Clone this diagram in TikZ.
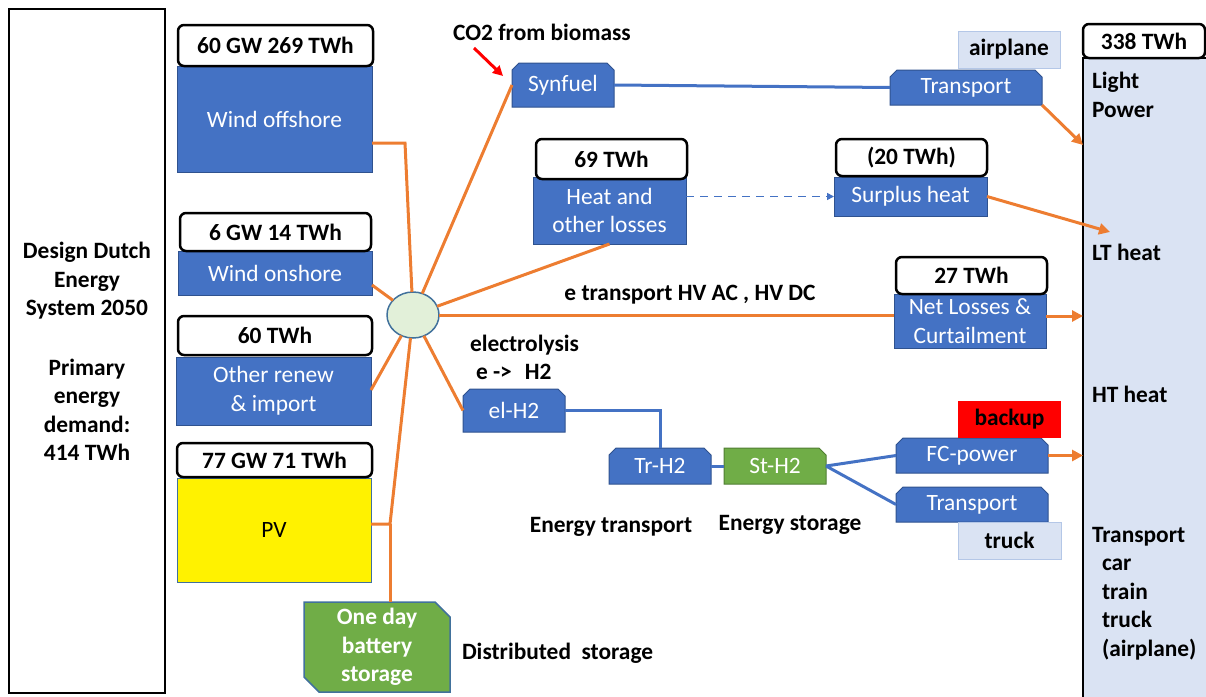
\documentclass[tikz,border=0pt]{standalone}
\usepackage{fontspec}
\setmainfont{Carlito}
\usetikzlibrary{shapes.geometric,arrows.meta,calc,backgrounds}
\definecolor{cblue}{HTML}{4472C4}
\definecolor{cbord}{HTML}{2F528F}
\definecolor{corange}{HTML}{ED7D31}
\definecolor{cgreen}{HTML}{70AD47}
\definecolor{cgreenb}{HTML}{507E32}
\definecolor{clight}{HTML}{DAE3F3}
\definecolor{clightb}{HTML}{B4C7E7}
\definecolor{chubf}{HTML}{E2F0D9}
\definecolor{chubb}{HTML}{41719C}
\newcommand\myfs{\fontsize{23.4}{28.5}\selectfont}
\newcommand\snipbox[4]{%
  \filldraw[fill=#3,draw=#4,line width=1pt] (#1.south west) -- ($(#1.north west)+(0,#2)$) -- ($(#1.north west)+(#2,0)$) -- ($(#1.north east)+(-#2,0)$) -- ($(#1.north east)+(0,#2)$) -- (#1.south east) -- cycle;}
\tikzset{
  every node/.style={font=\myfs, inner sep=0pt, outer sep=0pt},
  lab/.style={draw=black, line width=2.5pt, rounded corners=6pt, fill=white, font=\myfs\bfseries},
  bbox/.style={fill=cblue, draw=cbord, line width=1pt, text=white, align=center},
  ghost/.style={text=white, align=center},
  lbox/.style={fill=clight, draw=clightb, line width=1pt, font=\myfs\bfseries},
  txt/.style={font=\myfs\bfseries, align=center},
  oline/.style={draw=corange, line width=3pt},
  oarrow/.style={draw=corange, line width=3pt, -{Triangle[length=11pt,width=11pt]}},
  bline/.style={draw=cblue, line width=3pt},
  dline/.style={draw=cblue, line width=1.6pt, dash pattern=on 8pt off 6pt, -{Triangle[length=7pt,width=7pt]}},
  rarrow/.style={draw=red, line width=3pt, -{Triangle[length=10pt,width=10pt]}}
}
\begin{document}
\begin{tikzpicture}[x=1pt,y=-1pt]
\useasboundingbox (0,0) rectangle (1206,696);
% left title box
\node[draw=black, line width=2pt, fill=white, minimum width=156pt, minimum height=684pt] (leftbox) at (87,351) {};
\node[txt] (title) at (87,281) {Design Dutch\\Energy\\System 2050};
\node[txt] (demand) at (87,410) {Primary\\energy\\demand:\\414 TWh};
% sources
\node[bbox, minimum width=195pt, minimum height=106pt] (offshore) at (274.5,119) {Wind offshore};
\node[lab, minimum width=195pt, minimum height=41pt] (l1) at (275.5,45.5) {60 GW 269 TWh};
\node[bbox, minimum width=194pt, minimum height=44pt] (onshore) at (275,273) {Wind onshore};
\node[lab, minimum width=191pt, minimum height=38pt] (l2) at (275.5,232) {6 GW 14 TWh};
\node[bbox, minimum width=195pt, minimum height=68pt] (other) at (273.5,391) {Other renew\\\& import};
\node[lab, minimum width=194pt, minimum height=39pt] (l3) at (275,335.5) {60 TWh};
\node[bbox, fill=yellow, draw=chubb, text=black, minimum width=194pt, minimum height=104pt] (pv) at (274,530) {PV};
\node[lab, minimum width=195pt, minimum height=34pt] (l4) at (274.5,460) {77 GW 71 TWh};
\node[ghost, font=\myfs\bfseries, minimum width=146pt, minimum height=90pt] (battery) at (377,647) {One day\\battery\\storage};
\node[txt, anchor=west] (dist) at (462,653) {Distributed\ \ storage};
% hub
\node[ellipse, draw=chubb, line width=1.5pt, fill=chubf, minimum width=52pt, minimum height=46pt] (hub) at (413,315) {};
% middle
\node[ghost, minimum width=102pt, minimum height=44pt] (synfuel) at (563,85) {Synfuel};
\node[txt] (co2) at (542,32) {CO2 from biomass};
\coordinate (rA) at (474,48);
\coordinate (rB) at (503,76);
\node[ghost, minimum width=152pt, minimum height=35pt] (transA) at (966,87.5) {Transport};
\node[lbox, minimum width=102pt, minimum height=37pt] (airplane) at (1009,49.5) {airplane};
\node[bbox, minimum width=153pt, minimum height=67pt] (heat) at (609.5,210.5) {Heat and\\other losses};
\node[lab, minimum width=151pt, minimum height=40pt] (l5) at (611.5,159) {69 TWh};
\node[bbox, minimum width=153pt, minimum height=39pt] (surplus) at (910.5,196.5) {Surplus heat};
\node[lab, minimum width=151pt, minimum height=37pt] (l6) at (911.5,157.5) {(20 TWh)};
\node[bbox, minimum width=152pt, minimum height=54pt] (netloss) at (970,321) {Net Losses \&\\Curtailment};
\node[lab, minimum width=151pt, minimum height=37pt] (l7) at (971.5,275.5) {27 TWh};
\node[txt] (etr) at (690,295) {e transport HV AC , HV DC};
\node[txt, anchor=west] (elec1) at (470,345) {electrolysis};
\node[txt, anchor=west] (elec2) at (476,372) {e ->\hspace{13pt}H2};
\node[ghost, minimum width=102pt, minimum height=43pt] (elh2) at (514,410.5) {el-H2};
\node[ghost, minimum width=102pt, minimum height=36pt] (trh2) at (660,466) {Tr-H2};
\node[ghost, minimum width=102pt, minimum height=36pt] (sth2) at (775,466) {St-H2};
\node[fill=red, font=\myfs\bfseries, minimum width=103pt, minimum height=37pt] (backup) at (1009.5,419.5) {backup};
\node[ghost, minimum width=152pt, minimum height=35pt] (fc) at (972,455.5) {FC-power};
\node[ghost, minimum width=152pt, minimum height=35pt] (transB) at (972,504.5) {Transport};
\node[lbox, minimum width=103pt, minimum height=37pt] (truck) at (1009.5,540.5) {truck};
\node[txt] (entr) at (611,527) {Energy transport};
\node[txt] (enst) at (790,525) {Energy storage};
% right demand box
\begin{scope}
\clip (0,0) rectangle (1206,696);
\node[draw=black, line width=2.5pt, fill=clight, minimum width=132pt, minimum height=647pt] (rbox) at (1149,381.5) {};
\node[lab, minimum width=122pt, minimum height=34pt] (l8) at (1144,41) {338 TWh};
\end{scope}
\node[txt, anchor=west, align=left] (lp) at (1092,95) {Light\\Power};
\node[txt, anchor=west] (lt) at (1092,252) {LT heat};
\node[txt, anchor=west] (ht) at (1092,394) {HT heat};
\node[txt, anchor=west, align=left] (trl) at (1092,593.5) {Transport\\\hspace*{10pt}car\\\hspace*{10pt}train\\\hspace*{10pt}truck\\\hspace*{10pt}(airplane)};
\coordinate (tTip) at (1083,145);
\coordinate (lTip) at (1110,232);
\coordinate (pvj) at ($(pv.east)+(19,-6)$);
\coordinate (nlo) at ($(netloss.east)+(0,-5)$);
% chamfered shapes
\begin{scope}[on background layer]
\snipbox{synfuel}{7}{cblue}{cbord}
\snipbox{transA}{7}{cblue}{cbord}
\snipbox{elh2}{7}{cblue}{cbord}
\snipbox{trh2}{7}{cblue}{cbord}
\snipbox{fc}{7}{cblue}{cbord}
\snipbox{transB}{7}{cblue}{cbord}
\filldraw[fill=cgreen, draw=cgreenb, line width=1pt] (sth2.south west) -- (sth2.north west) -- ($(sth2.north east)+(-7,0)$) -- ($(sth2.north east)+(0,7)$) -- (sth2.south east) -- cycle;
\filldraw[fill=cgreen, draw=chubb, line width=1.5pt] ($(battery.south west)+(0,-15)$) -- (battery.north west) -- ($(battery.north east)+(-15,0)$) -- ($(battery.north east)+(0,15)$) -- (battery.south east) -- ($(battery.south west)+(15,0)$) -- cycle;
\end{scope}
% orange connectors
\draw[oline] ($(offshore.east)+(0,24)$) -- ++(33,0) -- (hub);
\draw[oline] ($(onshore.east)+(0,12)$) -- (hub);
\draw[oline] ($(other.east)+(0,-1)$) -- (hub);
\draw[oline] ($(pv.east)+(0,-6)$) -- (pvj) -- (hub);
\draw[oline] (pvj) -- (pvj |- battery.north);
\draw[oline] (hub) -- (synfuel.west);
\draw[oline] (hub) -- (heat.south);
\draw[oline] (hub) -- (hub -| netloss.west);
\draw[oline] (hub) -- (elh2.west);
\draw[oarrow] (transA.south east) -- (tTip);
\draw[oarrow] (surplus.east) -- (lTip);
\draw[oarrow] (nlo) -- (nlo -| rbox.west);
\draw[oarrow] (fc.east) -- (fc.east -| rbox.west);
% blue connectors
\draw[bline] (synfuel.east) -- (transA.west);
\draw[bline] (elh2.east) -| (trh2.north);
\draw[bline] (trh2.east) -- (sth2.west);
\draw[bline] (sth2.east) -- (fc.west);
\draw[bline] (sth2.east) -- (transB.west);
\draw[dline] ($(heat.east)+(0,-14)$) -- (surplus.west);
\draw[rarrow] (rA) -- (rB);
\end{tikzpicture}
\end{document}
